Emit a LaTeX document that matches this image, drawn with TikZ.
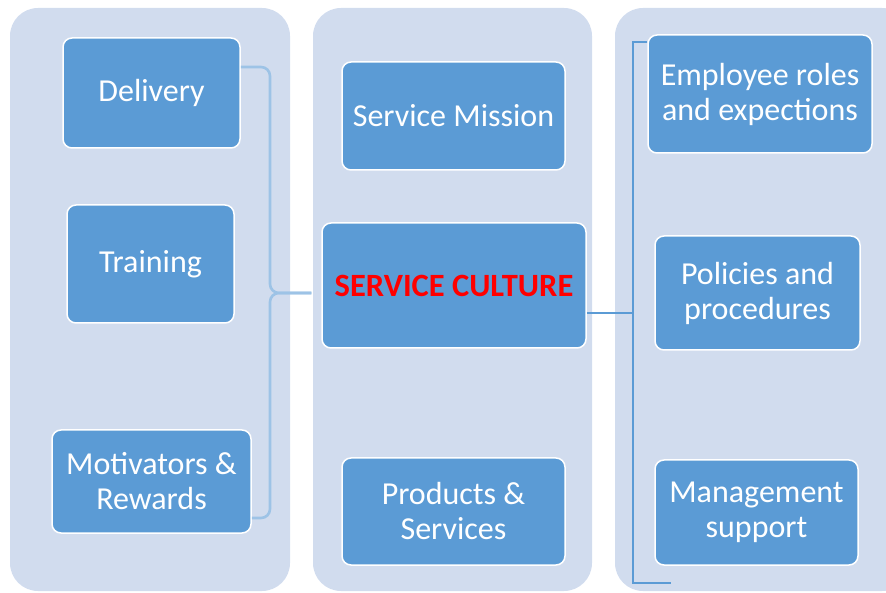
\documentclass[tikz,border=0pt]{standalone}
\usepackage{fontspec}
\setmainfont{Carlito}
\usepackage{tikz}
\usetikzlibrary{positioning}

\definecolor{panelblue}{HTML}{D1DCEE}
\definecolor{boxblue}{HTML}{5B9BD5}
\definecolor{linelight}{HTML}{9DC3E6}

\begin{document}
\begin{tikzpicture}[x=1pt,y=1pt,
    main node/.style={rectangle,rounded corners=9pt,draw=white,line width=1.5pt,fill=boxblue,
        text=white,align=center,font=\fontsize{32}{35}\selectfont},
    panel/.style={fill=panelblue,rounded corners=28pt},
    left line/.style={draw=linelight,line width=2.6pt,rounded corners=9pt},
    right line/.style={draw=boxblue,line width=1.6pt}]
    \clip (0,0) rectangle (886,592);
    % three background columns
    \fill[panel] (10,1) rectangle (290,584);
    \fill[panel] (313,1) rectangle (592,584);
    \fill[panel] (615,1) rectangle (910,584);

    % left column
    \node[main node,minimum width=177pt,minimum height=110pt] (delivery) at (151.5,499) {Delivery};
    \node[main node,minimum width=167pt,minimum height=118pt] (training) at (150.5,328) {Training};
    \node[main node,minimum width=199pt,minimum height=103pt] (motiv) at (151.5,110.5) {Motivators \&\\Rewards};
    % middle column
    \node[main node,minimum width=223pt,minimum height=108pt] (mission) at (453.5,476) {Service Mission};
    \node[main node,minimum width=264pt,minimum height=125pt,text=red,
          font=\fontsize{32.5}{36}\selectfont\bfseries] (culture) at (454,306.5) {SERVICE CULTURE};
    \node[main node,minimum width=223pt,minimum height=107pt] (products) at (453.5,80.5) {Products \&\\Services};
    % right column
    \node[main node,minimum width=224pt,minimum height=118pt] (roles) at (760,498) {Employee roles\\and expections};
    \node[main node,minimum width=205pt,minimum height=114pt] (policies) at (757.5,299) {Policies and\\procedures};
    \node[main node,minimum width=203pt,minimum height=105pt] (mgmt) at (756.5,79.5) {Management\\support};

    % left brace
    \coordinate (ltip) at (270,299);
    \draw[left line] ([yshift=26pt]delivery.east) -| (ltip) -- ([xshift=-10pt]culture.west |- ltip);
    \draw[left line] ([yshift=-36.5pt]motiv.east) -| (ltip) -- ([xshift=-10pt]culture.west |- ltip);

    % right bracket
    \coordinate (rtop) at (633,550);
    \coordinate (rmid) at (633,279);
    \coordinate (rbot) at (633,9);
    \coordinate (rend) at (671,9);
    \draw[right line] ([yshift=52pt]roles.west) -- (rtop) -- (rbot) -- (rend);
    \draw[right line] ([yshift=-27.5pt]culture.east) -- (rmid);
\end{tikzpicture}
\end{document}
